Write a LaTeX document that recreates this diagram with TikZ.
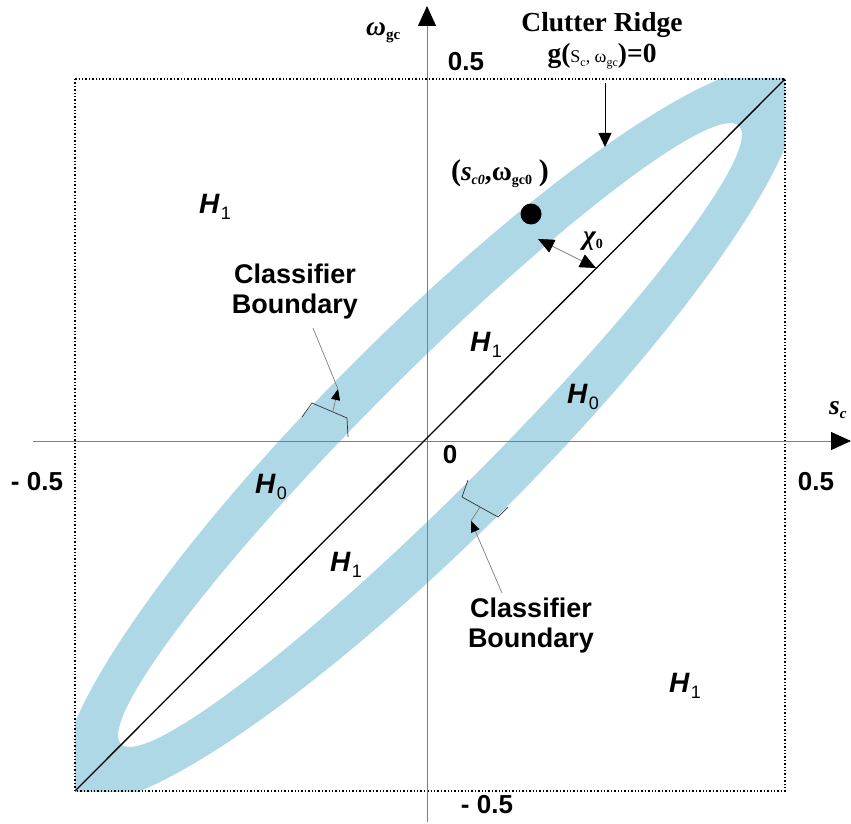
\documentclass[tikz,border=0pt]{standalone}
\usepackage{fontspec}
\setmainfont{Liberation Serif}
\setsansfont{Liberation Sans}
\usetikzlibrary{arrows.meta}

\definecolor{ridgeblue}{RGB}{174,216,229}
\definecolor{axisgray}{RGB}{125,125,125}

\newcommand{\hyp}[1]{\textit{H}\kern1pt\raisebox{-6pt}{\fontsize{18}{18}\selectfont\mdseries\upshape #1}}
\newcommand{\lowsub}[2][13]{\raisebox{-4pt}{\fontsize{#1}{#1}\selectfont #2}}

\begin{document}
\begin{tikzpicture}[x=1pt, y=-1pt,
    num/.style={font=\sffamily\bfseries\fontsize{26}{28}\selectfont, inner sep=0pt},
    hyplbl/.style={font=\sffamily\bfseries\fontsize{28}{30}\selectfont, inner sep=0pt, anchor=base west},
    note/.style={font=\sffamily\bfseries\fontsize{27}{30}\selectfont, align=center, inner sep=0pt, anchor=base},
    ser/.style={font=\bfseries\fontsize{27.5}{30}\selectfont, inner sep=0pt},
    axis/.style={axisgray, line width=0.9pt, -{Triangle[length=20pt, width=18pt, black]}},
    pointer/.style={axisgray, line width=0.7pt},
    head/.style={-{Triangle[length=11pt, width=9pt, black]}},
    bracket/.style={black!80, line width=0.7pt}
  ]
  \useasboundingbox (0,0) rectangle (851,824);

  % corners of the square
  \coordinate (ll) at (75,791);
  \coordinate (ur) at (785,79);
  \coordinate (mid) at (430,435);

  % clutter ridge band
  \begin{scope}
    \clip (75,79) rectangle (785,791);
    \fill[ridgeblue, even odd rule, rotate around={45:(mid)}]
      (mid) ellipse [x radius=510pt, y radius=105pt]
      (mid) ellipse [x radius=437pt, y radius=60pt];
  \end{scope}
  \draw[dotted, line width=1.4pt] (75,79) rectangle (785,791);

  % axes
  \coordinate (xfrom) at (33,441);
  \coordinate (xto) at (851,441);
  \coordinate (yfrom) at (427,822);
  \coordinate (yto) at (427,6);
  \draw[axis] (xfrom) -- (xto);
  \draw[axis] (yfrom) -- (yto);
  \draw[line width=1.3pt] (ll) -- (ur);

  \node[ser, anchor=base west] (wgc) at (366,36) {\itshape ω\lowsub[15]{\upshape gc}};
  \node[ser, anchor=base west] (sc) at (829,414) {\itshape s\lowsub[15]{c}};
  \node[num, anchor=base] (ytop) at (466,71) {0.5};
  \node[num, anchor=base] (ybot) at (487,813) {- 0.5};
  \node[num, anchor=base] (xleft) at (37,490) {- 0.5};
  \node[num, anchor=base] (xright) at (816,490) {0.5};
  \node[num, anchor=base] (orig) at (450,463) {0};

  % clutter ridge label
  \node[ser, anchor=base] (ridge) at (602,32) {Clutter Ridge};
  \node[ser, anchor=base] (gfun) at (602,63)
    {g({\mdseries\fontsize{18}{18}\selectfont S\lowsub[12]{c}, ω\lowsub[12]{gc}})=0};
  \coordinate (ridgetail) at (605,83);
  \coordinate (ridgetip) at (605,147);
  \draw[line width=1pt, -{Triangle[length=14pt, width=13pt]}] (ridgetail) -- (ridgetip);

  % point on the ridge and its distance
  \node[circle, fill=black, inner sep=0pt, minimum size=21pt] (p0) at (531,214) {};
  \node[ser, anchor=base] (p0lbl) at (500,180)
    {{\fontsize{30}{30}\selectfont(}\textit{s}\lowsub[14]{\itshape c0},ω\lowsub[14]{gc0}\ {\fontsize{30}{30}\selectfont)}};
  \coordinate (chiA) at (538,239);
  \coordinate (chiB) at (596,268);
  \draw[pointer, {Triangle[length=16pt, width=14pt, black]}-{Triangle[length=16pt, width=14pt, black]}] (chiA) -- (chiB);
  \node[ser, anchor=base] (chi) at (593,244) {\itshape χ\lowsub[14]{\upshape 0}};

  % hypotheses
  \node[hyplbl] (h1a) at (199,213) {\hyp{1}};
  \node[hyplbl] (h1b) at (470,351) {\hyp{1}};
  \node[hyplbl] (h0a) at (567,403) {\hyp{0}};
  \node[hyplbl] (h0b) at (255,493) {\hyp{0}};
  \node[hyplbl] (h1c) at (330,571) {\hyp{1}};
  \node[hyplbl] (h1d) at (669,692) {\hyp{1}};

  % classifier boundaries
  \node[note] (cbup) at (295,313) {Classifier\\Boundary};
  \node[note] (cblow) at (531,647) {Classifier\\Boundary};

  \draw[bracket] (302,417) -- (312,403) -- (347,418) -- (348,437);
  \coordinate (bupmid) at (333,411);
  \coordinate (bupapex) at (338,389);
  \coordinate (bupline) at (313,328);
  \draw[pointer, head] (bupmid) -- (bupapex);
  \draw[pointer] (bupline) -- (bupapex);

  \draw[bracket] (468,480) -- (462,497) -- (498,517) -- (508,507);
  \coordinate (blowmid) at (480,507);
  \coordinate (blowapex) at (471,521);
  \coordinate (blowline) at (502,593);
  \draw[pointer] (blowmid) -- (blowapex);
  \draw[pointer, head] (blowline) -- (blowapex);
\end{tikzpicture}
\end{document}
